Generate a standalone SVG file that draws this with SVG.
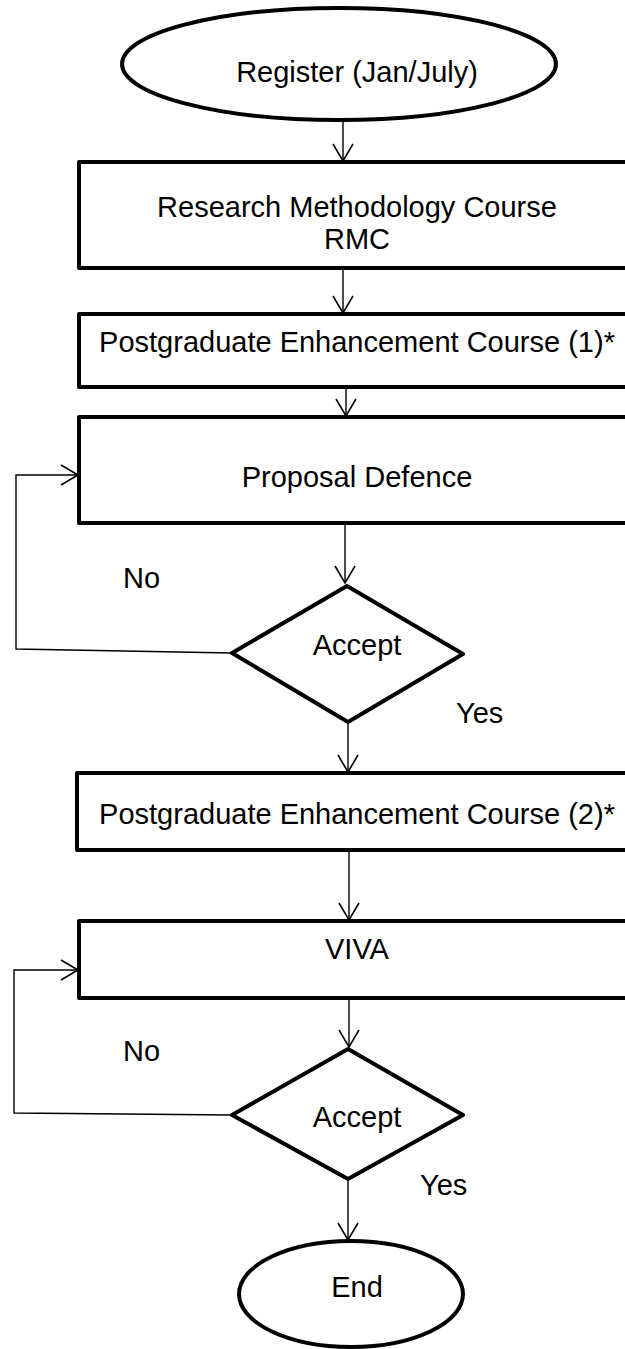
<svg xmlns="http://www.w3.org/2000/svg" width="625" height="1349" viewBox="0 0 625 1349">
<defs>
<style>
.shape{fill:#fff;stroke:#000;stroke-width:4;stroke-linejoin:round}
.lbl{font-family:"Liberation Sans",Arial,sans-serif;font-size:29px;fill:#000;text-anchor:middle}
.free{font-family:"Liberation Sans",Arial,sans-serif;font-size:29px;fill:#000}
.conn{fill:none;stroke:#000;stroke-width:1.4}
</style>
<marker id="arr" viewBox="0 0 20 24" refX="18" refY="12" markerWidth="20" markerHeight="24" markerUnits="userSpaceOnUse" orient="auto">
<path d="M1,2 L18,12 L1,22" fill="none" stroke="#000" stroke-width="1.6"/>
</marker>
</defs>
<rect width="625" height="1349" fill="#fff"/>
<g id="connectors">
<line class="conn" x1="343" y1="120" x2="343" y2="161" marker-end="url(#arr)"/>
<line class="conn" x1="343" y1="268" x2="343" y2="313" marker-end="url(#arr)"/>
<line class="conn" x1="346" y1="387" x2="346" y2="416" marker-end="url(#arr)"/>
<line class="conn" x1="345" y1="523" x2="345" y2="583" marker-end="url(#arr)"/>
<polyline class="conn" points="232,653 16,649 16,475 78,475" marker-end="url(#arr)"/>
<line class="conn" x1="348" y1="722" x2="348" y2="772" marker-end="url(#arr)"/>
<line class="conn" x1="349" y1="850" x2="349" y2="920" marker-end="url(#arr)"/>
<line class="conn" x1="349" y1="994" x2="349" y2="1047" marker-end="url(#arr)"/>
<polyline class="conn" points="232,1115 14,1113 14,970 78,970" marker-end="url(#arr)"/>
<line class="conn" x1="348" y1="1179" x2="348" y2="1240" marker-end="url(#arr)"/>
</g>
<g id="register">
<ellipse class="shape" cx="339" cy="64" rx="217" ry="56"/>
<text class="lbl" x="357" y="82">Register (Jan/July)</text>
</g>
<g id="rmc">
<rect class="shape" x="79" y="162" width="560" height="106"/>
<text class="lbl" x="357" y="217">Research Methodology Course</text>
<text class="lbl" x="357" y="249">RMC</text>
</g>
<g id="pec1">
<rect class="shape" x="79" y="314" width="560" height="73"/>
<text class="lbl" x="357" y="352">Postgraduate Enhancement Course (1)*</text>
</g>
<g id="proposal">
<rect class="shape" x="79" y="417" width="560" height="106"/>
<text class="lbl" x="357" y="487">Proposal Defence</text>
</g>
<g id="accept1">
<polygon class="shape" points="347,586 463,654 348,722 232,653"/>
<text class="lbl" x="357" y="655">Accept</text>
</g>
<g id="pec2">
<rect class="shape" x="77" y="773" width="562" height="77"/>
<text class="lbl" x="357" y="824">Postgraduate Enhancement Course (2)*</text>
</g>
<g id="viva">
<rect class="shape" x="79" y="921" width="560" height="77"/>
<text class="lbl" x="357" y="959">VIVA</text>
</g>
<g id="accept2">
<polygon class="shape" points="348,1049 463,1115 348,1179 232,1115"/>
<text class="lbl" x="357" y="1127">Accept</text>
</g>
<g id="end">
<ellipse class="shape" cx="351" cy="1294" rx="112" ry="53"/>
<text class="lbl" x="357" y="1297">End</text>
</g>
<g id="labels">
<text class="free" x="123" y="588">No</text>
<text class="free" x="456" y="723">Yes</text>
<text class="free" x="123" y="1061">No</text>
<text class="free" x="420" y="1195">Yes</text>
</g>
</svg>
